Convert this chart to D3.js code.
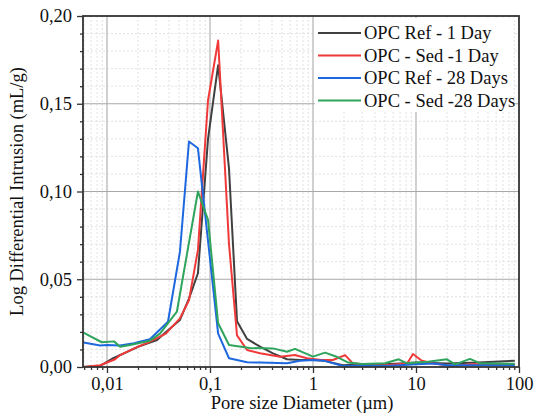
<!DOCTYPE html>
<html>
<head>
<meta charset="utf-8">
<script src="https://cdn.jsdelivr.net/npm/d3@7"></script>
<style>
  body { margin: 0; background: #fff; }
  text { font-family: "Liberation Serif", "Times New Roman", serif; fill: #111; }
</style>
</head>
<body>
<div id="chart"></div>
<script>
// pore diameter (µm) and log differential intrusion (mL/g)
var refDay1X = [0.0059, 0.0086, 0.0115, 0.02, 0.0306, 0.0391, 0.0511, 0.0625, 0.0764, 0.0957, 0.12, 0.153, 0.183, 0.229, 0.306, 0.409, 0.56, 0.748, 1.0, 1.3, 1.95, 3.0, 5.0, 7.0, 10, 20, 40, 91]
var refDay1Y = [0, 0.0006, 0.005, 0.0115, 0.0154, 0.021, 0.0268, 0.039, 0.0534, 0.13, 0.172, 0.113, 0.026, 0.016, 0.0116, 0.0078, 0.0044, 0.004, 0.004, 0.0035, 0.001, 0.0015, 0.0015, 0.002, 0.0025, 0.002, 0.0025, 0.0036]

var sedDay1X = [0.0059, 0.0086, 0.012, 0.0134, 0.02, 0.0261, 0.0373, 0.0511, 0.0625, 0.0764, 0.0957, 0.12, 0.153, 0.183, 0.229, 0.306, 0.48, 0.668, 0.874, 1.2, 1.56, 2.05, 2.44, 3.57, 5.0, 8.2, 9.35, 11.4, 15, 22, 35, 60, 91]
var sedDay1Y = [0, 0.001, 0.0044, 0.0068, 0.0116, 0.0144, 0.019, 0.0277, 0.038, 0.0667, 0.152, 0.186, 0.07, 0.018, 0.0097, 0.0078, 0.0059, 0.0068, 0.005, 0.004, 0.004, 0.0068, 0.0021, 0.0012, 0.001, 0.002, 0.0074, 0.0036, 0.002, 0.0006, 0.0015, 0.0015, 0.0015]

var refDay28X = [0.0059, 0.0086, 0.01, 0.0134, 0.0183, 0.0261, 0.0391, 0.0511, 0.0625, 0.0764, 0.12, 0.153, 0.229, 0.306, 0.56, 0.748, 1.0, 1.3, 1.95, 3.0, 5.0, 7.0, 10, 15, 20, 40, 91]
var refDay28Y = [0.0139, 0.0122, 0.0125, 0.0122, 0.0135, 0.0158, 0.0258, 0.0657, 0.1285, 0.1246, 0.019, 0.005, 0.0027, 0.0025, 0.0021, 0.0036, 0.004, 0.0035, 0.0006, 0.0008, 0.0006, 0.001, 0.0015, 0.002, 0.001, 0.001, 0.001]

var sedDay28X = [0.0059, 0.0089, 0.0117, 0.0134, 0.0167, 0.0261, 0.0327, 0.0477, 0.0764, 0.0957, 0.12, 0.153, 0.244, 0.409, 0.56, 0.668, 1.0, 1.31, 1.67, 2.2, 3.0, 5.0, 6.8, 8.2, 13, 20, 24, 33.4, 42, 91]
var sedDay28Y = [0.0196, 0.0141, 0.0146, 0.0116, 0.0125, 0.015, 0.019, 0.0315, 0.1, 0.0838, 0.0249, 0.0125, 0.0108, 0.0106, 0.0087, 0.0103, 0.0059, 0.0082, 0.006, 0.0025, 0.0017, 0.0021, 0.0044, 0.0021, 0.003, 0.0044, 0.0015, 0.0046, 0.0021, 0.0018]

var seriesNames = ["OPC Ref - 1 Day", "OPC - Sed -1 Day", "OPC Ref - 28 Days", "OPC - Sed -28 Days"]
var seriesColors = ["#404040", "#f03a3a", "#1d68df", "#2ea45c"]
var xTickValues = [0.01, 0.1, 1, 10, 100]
var xTickLabels = ["0,01", "0,1", "1", "10", "100"]
var yTickValues = [0, 0.05, 0.10, 0.15, 0.20]
var yTickLabels = ["0,00", "0,05", "0,10", "0,15", "0,20"]

var series = [
  {x: refDay1X, y: refDay1Y},
  {x: sedDay1X, y: sedDay1Y},
  {x: refDay28X, y: refDay28Y},
  {x: sedDay28X, y: sedDay28Y}
]

var W = 539, H = 417
var fontSize = 18.5
// plot box edges (window.top is reserved, so prefixed names)
var pLeft = 83, pRight = 519, pTop = 16, pBottom = 367

var svg = d3.select("#chart").append("svg")
  .attr("width", W)
  .attr("height", H)

var x = d3.scaleLog().domain([0.00585, 100]).range([pLeft, pRight])
var y = d3.scaleLinear().domain([0, 0.2]).range([pBottom, pTop])

// minor values
var xMinor = []
for (var e = -3; e < 2; e++) {
  for (var k = 2; k <= 9; k++) {
    var v = k * Math.pow(10, e)
    if (v >= 0.00585 && v <= 100) xMinor.push(v)
  }
}
var yMinor = d3.range(0.01, 0.2, 0.01).filter(function(d) {
  return Math.abs(d / 0.05 - Math.round(d / 0.05)) > 1e-6
})

var grid = svg.append("g")

grid.selectAll(".xmin").data(xMinor).enter().append("line")
  .attr("x1", function(d) { return x(d) }).attr("x2", function(d) { return x(d) })
  .attr("y1", pTop).attr("y2", pBottom)
  .attr("stroke", "#e2e2e2").attr("stroke-width", 1).attr("stroke-dasharray", "2,2")

grid.selectAll(".ymin").data(yMinor).enter().append("line")
  .attr("x1", pLeft).attr("x2", pRight)
  .attr("y1", function(d) { return y(d) }).attr("y2", function(d) { return y(d) })
  .attr("stroke", "#e2e2e2").attr("stroke-width", 1).attr("stroke-dasharray", "2,2")

grid.selectAll(".xmaj").data(xTickValues.slice(0, 4)).enter().append("line")
  .attr("x1", function(d) { return x(d) }).attr("x2", function(d) { return x(d) })
  .attr("y1", pTop).attr("y2", pBottom)
  .attr("stroke", "#d0d0d0").attr("stroke-width", 2)

grid.selectAll(".ymaj").data([0.05, 0.10, 0.15]).enter().append("line")
  .attr("x1", pLeft).attr("x2", pRight)
  .attr("y1", function(d) { return y(d) }).attr("y2", function(d) { return y(d) })
  .attr("stroke", "#a8a8a8").attr("stroke-width", 1)

// curves
var line = d3.line()
  .x(function(d) { return x(d[0]) })
  .y(function(d) { return y(d[1]) })

svg.append("defs").append("clipPath").attr("id", "plotClip")
  .append("rect").attr("x", pLeft).attr("y", pTop).attr("width", pRight - pLeft).attr("height", pBottom - pTop)

svg.append("g").attr("clip-path", "url(#plotClip)")
  .selectAll("path").data(series).enter().append("path")
  .attr("d", function(s) { return line(d3.zip(s.x, s.y)) })
  .attr("fill", "none")
  .attr("stroke", function(s, i) { return seriesColors[i] })
  .attr("stroke-width", 2)
  .attr("stroke-linejoin", "round")

// legend
var legend = svg.append("g")
legend.append("rect")
  .attr("x", 315).attr("y", 18).attr("width", 198).attr("height", 94)
  .attr("fill", "#fff")

legend.selectAll("line").data(seriesNames).enter().append("line")
  .attr("x1", 318).attr("x2", 361)
  .attr("y1", function(d, i) { return 33 + i * 22.5 })
  .attr("y2", function(d, i) { return 33 + i * 22.5 })
  .attr("stroke", function(d, i) { return seriesColors[i] })
  .attr("stroke-width", 2)

legend.selectAll("text").data(seriesNames).enter().append("text")
  .attr("x", 364)
  .attr("y", function(d, i) { return 33 + i * 22.5 })
  .attr("dy", "0.35em")
  .attr("font-size", fontSize)
  .text(function(d) { return d })

// axes
var xAxis = d3.axisBottom(x).tickValues(xTickValues)
  .tickFormat(function(d, i) { return xTickLabels[i] })
  .tickSize(6).tickPadding(4)
var xAxisMinor = d3.axisBottom(x).tickValues(xMinor).tickFormat("").tickSize(3)

var yAxis = d3.axisLeft(y).tickValues(yTickValues)
  .tickFormat(function(d, i) { return yTickLabels[i] })
  .tickSize(6).tickPadding(5)
var yAxisMinor = d3.axisLeft(y).tickValues(yMinor).tickFormat("").tickSize(3)

function styleAxis(g) {
  g.select(".domain").remove()
  g.selectAll("line").attr("stroke", "#333").attr("stroke-width", 1.3)
  g.selectAll("text").attr("font-size", fontSize).attr("font-family", "Liberation Serif").attr("fill", "#111")
}

svg.append("g").attr("transform", "translate(0," + pBottom + ")").call(xAxisMinor).call(styleAxis)
svg.append("g").attr("transform", "translate(0," + pBottom + ")").call(xAxis).call(styleAxis)
svg.append("g").attr("transform", "translate(0,0)").call(yAxisMinor).attr("transform", "translate(" + pLeft + ",0)").call(styleAxis)
svg.append("g").attr("transform", "translate(" + pLeft + ",0)").call(yAxis).call(styleAxis)

// frame
svg.append("rect")
  .attr("x", pLeft).attr("y", pTop).attr("width", pRight - pLeft).attr("height", pBottom - pTop)
  .attr("fill", "none").attr("stroke", "#333").attr("stroke-width", 1.8)

// axis titles
svg.append("text")
  .attr("x", (pLeft + pRight) / 2 + 1).attr("y", 409)
  .attr("text-anchor", "middle").attr("font-size", fontSize)
  .text("Pore size Diameter (µm)")

svg.append("text")
  .attr("transform", "translate(23," + ((pTop + pBottom) / 2) + ") rotate(-90)")
  .attr("text-anchor", "middle").attr("font-size", fontSize)
  .text("Log Differential Intrusion (mL/g)")
</script>
</body>
</html>
